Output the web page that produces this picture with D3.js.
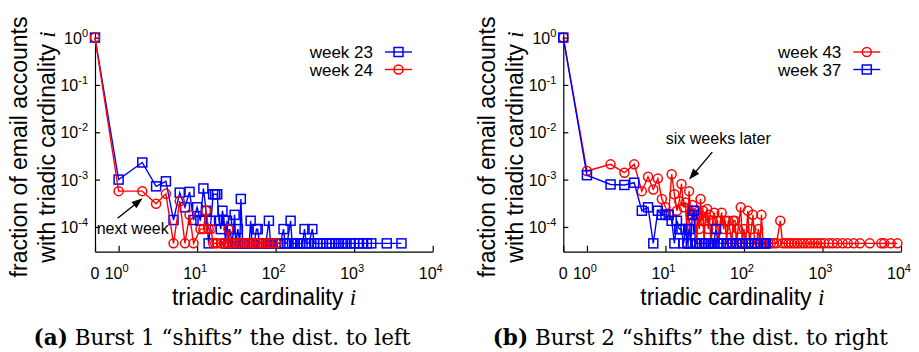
<!DOCTYPE html>
<html>
<head>
<meta charset="utf-8">
<script src="https://cdn.jsdelivr.net/npm/d3@7"></script>
<style>
  body { margin: 0; background: #fff; }
  text { font-family: "Liberation Sans", Arial, sans-serif; fill: #000; }
</style>
</head>
<body>
<svg id="chart" width="919" height="352"></svg>
<script>
// ---- data ----
// (a) week 23 / week 24, (b) week 43 / week 37 ; [triadic cardinality, fraction]
const week23 = [[0,1],[1,1e-3],[2,2.3e-3],[3,7.2e-4],[4,9.2e-4],[5,1.4e-4],[6,5.3e-4],[7,2.6e-4],[8,5.5e-4],
  [9,1.4e-4],[10,2.6e-4],[11,1.35e-4],[12,6.5e-4],[13,2.2e-4],[14,4.5e-5],[15,1.35e-4],[16,4.9e-4],[17,4.9e-4],
  [18,4.9e-4],[19,1.35e-4],[20,9e-5],[21,2.2e-4],[22,1.35e-4],[23,4.5e-5],[24,1.35e-4],[25,4.5e-5],[26,9e-5],
  [28,4.5e-5],[30,1.8e-4],[31,4.5e-5],[33,9e-5],[35,4.5e-5],[36,3.9e-4],[38,4.5e-5],[40,4.5e-5],[43,4.5e-5],
  [46,4.5e-5],[48,1.35e-4],[50,4.5e-5],[53,4.5e-5],[57,9e-5],[59,9e-5],[62,4.5e-5],[66,4.5e-5],[70,4.5e-5],
  [75,4.5e-5],[82,1.35e-4],[86,4.5e-5],[92,4.5e-5],[100,4.5e-5],[108,4.5e-5],[115,4.5e-5],[126,9e-5],[132,4.5e-5],
  [140,4.5e-5],[155,1.35e-4],[162,4.5e-5],[175,4.5e-5],[190,4.5e-5],[205,4.5e-5],[220,4.5e-5],[233,9e-5],
  [245,4.5e-5],[265,4.5e-5],[293,9e-5],[310,4.5e-5],[340,4.5e-5],[370,4.5e-5],[400,4.5e-5],[440,4.5e-5],
  [480,4.5e-5],[520,4.5e-5],[580,4.5e-5],[640,4.5e-5],[720,4.5e-5],[800,4.5e-5],[900,4.5e-5],[1000,4.5e-5],
  [1150,4.5e-5],[1300,4.5e-5],[1450,4.5e-5],[1650,4.5e-5],[2600,4.5e-5],[4000,4.5e-5]];

const week24 = [[0,1],[1,5.7e-4],[2,5.7e-4],[3,3.1e-4],[4,5e-4],[5,4.5e-5],[6,3.5e-4],[7,4.5e-5],[8,1.8e-4],
  [9,4.5e-5],[11,9e-5],[12,9e-5],[13,2.2e-4],[14,9e-5],[15,9e-5],[16,4.5e-5],[17,4.5e-5],[18,4.5e-5],[20,4.5e-5],
  [22,4.5e-5],[24,4.5e-5],[25,9e-5],[26,4.5e-5],[28,4.5e-5],[31,4.5e-5],[34,4.5e-5],[37,4.5e-5],[41,4.5e-5],
  [45,4.5e-5],[50,4.5e-5],[55,4.5e-5],[60,4.5e-5],[67,4.5e-5],[74,4.5e-5],[82,4.5e-5],[92,4.5e-5],[102,4.5e-5]];

const week43 = [[0,1],[1,1.52e-3],[2,2.1e-3],[3,1.4e-3],[4,2.1e-3],[5,5.7e-4],[6,1.15e-3],[7,6.2e-4],[8,1.05e-3],
  [9,3.9e-4],[10,2.6e-4],[11,1.9e-4],[12,1.3e-3],[13,4.9e-4],[14,2.2e-4],[15,3.5e-4],[16,8.1e-4],[17,2.6e-4],
  [18,3.3e-4],[19,4.5e-5],[20,5.7e-4],[21,1.8e-4],[22,2.9e-4],[23,1.35e-4],[24,2.2e-4],[25,4.5e-5],[26,1.8e-4],
  [27,9e-5],[28,3.9e-4],[29,1.35e-4],[30,2.2e-4],[31,4.5e-5],[32,1.35e-4],[34,2.4e-4],[35,9e-5],[36,1.8e-4],
  [38,4.5e-5],[40,1.35e-4],[42,2e-4],[44,9e-5],[46,1.35e-4],[48,4.5e-5],[50,1.35e-4],[52,2e-4],[55,9e-5],
  [58,1.35e-4],[60,4.5e-5],[63,1.35e-4],[66,9e-5],[70,4.5e-5],[73,1.35e-4],[77,1.35e-4],[80,4.5e-5],[84,9e-5],
  [91,2.6e-4],[95,4.5e-5],[100,9e-5],[105,4.5e-5],[112,2.2e-4],[118,4.5e-5],[124,9e-5],[130,1.8e-4],[137,4.5e-5],
  [145,4.5e-5],[152,9e-5],[160,4.5e-5],[167,1.8e-4],[175,4.5e-5],[190,4.5e-5],[205,4.5e-5],[220,4.5e-5],
  [240,4.5e-5],[260,4.5e-5],[290,1.35e-4],[310,4.5e-5],[340,4.5e-5],[370,4.5e-5],[400,4.5e-5],[440,4.5e-5],
  [480,4.5e-5],[530,4.5e-5],[580,4.5e-5],[640,4.5e-5],[700,4.5e-5],[780,4.5e-5],[860,4.5e-5],[950,4.5e-5],
  [1050,4.5e-5],[1200,4.5e-5],[1350,4.5e-5],[1550,4.5e-5],[1800,4.5e-5],[2100,4.5e-5],[2500,4.5e-5],
  [3000,4.5e-5],[4000,4.5e-5],[5600,4.5e-5],[6100,4.5e-5],[7400,4.5e-5],[9000,4.5e-5]];

const week37 = [[0,1],[1,1.24e-3],[2,7.9e-4],[3,7.7e-4],[4,8.6e-4],[5,2.2e-4],[6,2.6e-4],[7,4.5e-5],[8,2.2e-4],
  [9,1.8e-4],[10,1.8e-4],[11,1.8e-4],[12,1.35e-4],[13,4.5e-5],[14,1.35e-4],[15,9e-5],[16,9e-5],[17,4.5e-5],
  [18,9e-5],[19,4.5e-5],[20,9e-5],[21,4.5e-5],[22,1.8e-4],[23,2.2e-4],[24,4.5e-5],[25,4.5e-5],[27,4.5e-5],
  [29,4.5e-5],[31,4.5e-5],[33,4.5e-5],[35,4.5e-5],[38,4.5e-5],[41,4.5e-5],[44,9e-5],[47,4.5e-5],[51,4.5e-5],
  [55,4.5e-5],[60,4.5e-5],[66,4.5e-5],[72,4.5e-5],[80,4.5e-5],[88,4.5e-5],[96,4.5e-5],[105,4.5e-5],[115,4.5e-5],
  [125,4.5e-5],[138,4.5e-5],[150,4.5e-5],[165,4.5e-5],[180,4.5e-5],[190,4.5e-5]];

const xTicks = [0, 1, 10, 100, 1000, 10000];
const xTickExp = [null, '0', '1', '2', '3', '4'];
const yTicks = [1, 1e-1, 1e-2, 1e-3, 1e-4];
const yTickExp = ['0', '-1', '-2', '-3', '-4'];

const BLUE = '#0000ff', RED = '#ff0000';
const svg = d3.select('#chart');

function marker(g, shape, color, cx, cy) {
  if (shape === 'square') {
    g.append('rect').attr('x', cx - 4.5).attr('y', cy - 4.5).attr('width', 9).attr('height', 9)
      .attr('fill', 'none').attr('stroke', color).attr('stroke-width', 1.5);
  } else {
    g.append('circle').attr('cx', cx).attr('cy', cy).attr('r', 4.5)
      .attr('fill', 'none').attr('stroke', color).attr('stroke-width', 1.5);
  }
}

function drawPanel(left, series, note, caption) {
  const g = svg.append('g');
  const x = d3.scaleLog().domain([0.5, 1e4]).range([left, left + 337.7]);
  const xv = v => x(v === 0 ? 0.5 : v);
  const y = d3.scaleLog().domain([3e-5, 1.28]).range([251.7, 32.5]);

  // axes (left + bottom only, ticks inward)
  g.append('g').attr('transform', 'translate(0,251.7)')
    .call(d3.axisBottom(x).tickValues(xTicks.map(v => v === 0 ? 0.5 : v)).tickSizeInner(-6).tickSizeOuter(0).tickFormat(''))
    .call(a => a.selectAll('path,line').attr('stroke', '#000').attr('stroke-width', 1.2));
  g.append('g').attr('transform', `translate(${left},0)`)
    .call(d3.axisLeft(y).tickValues(yTicks).tickSizeInner(-5).tickSizeOuter(0).tickFormat(''))
    .call(a => a.selectAll('path,line').attr('stroke', '#000').attr('stroke-width', 1.2));

  xTicks.forEach((v, i) => {
    const t = g.append('text').attr('x', xv(v) - (i === 0 ? 0 : 2)).attr('y', 279)
      .attr('text-anchor', 'middle').attr('font-size', 16);
    if (xTickExp[i] === null) t.text('0');
    else {
      t.append('tspan').text('10');
      t.append('tspan').attr('dy', -7).attr('font-size', 11).text(xTickExp[i]);
    }
  });
  yTicks.forEach((v, i) => {
    const t = g.append('text').attr('x', left - 7).attr('y', y(v) + 6)
      .attr('text-anchor', 'end').attr('font-size', 16);
    t.append('tspan').text('10');
    t.append('tspan').attr('dy', -7).attr('font-size', 11).text(yTickExp[i]);
  });

  // series: lines then markers, in plot order
  series.forEach(s => {
    const line = d3.line().x(d => xv(d[0])).y(d => y(d[1]));
    g.append('path').datum(s.data).attr('d', line).attr('fill', 'none')
      .attr('stroke', s.color).attr('stroke-width', 1.4);
    const mg = g.append('g');
    s.data.forEach(d => marker(mg, s.shape, s.color, xv(d[0]), y(d[1])));
  });

  // legend
  series.forEach((s, i) => {
    const ly = 52 + i * 17.5;
    g.append('text').attr('x', left + 278).attr('y', ly + 6).attr('text-anchor', 'end')
      .attr('font-size', 17).text(s.name);
    g.append('line').attr('x1', left + 290).attr('x2', left + 317).attr('y1', ly).attr('y2', ly)
      .attr('stroke', s.color).attr('stroke-width', 1.4);
    marker(g, s.shape, s.color, left + 303.5, ly);
  });

  // annotation
  g.append('text').attr('x', x(note.tx)).attr('y', y(note.ty) + 6).attr('font-size', 16).text(note.text);
  const x1 = x(note.ax[0]), y1 = y(note.ax[1]), x2 = x(note.ax[2]), y2 = y(note.ax[3]);
  const ang = Math.atan2(y2 - y1, x2 - x1);
  const hl = 11, hw = 4;
  g.append('line').attr('x1', x1).attr('y1', y1)
    .attr('x2', x2 - Math.cos(ang) * hl * 0.8).attr('y2', y2 - Math.sin(ang) * hl * 0.8)
    .attr('stroke', '#000').attr('stroke-width', 1.4);
  const bx = x2 - Math.cos(ang) * hl, by = y2 - Math.sin(ang) * hl;
  g.append('path').attr('d', `M${x2},${y2}L${bx - Math.sin(ang) * hw},${by + Math.cos(ang) * hw}L${bx + Math.sin(ang) * hw},${by - Math.cos(ang) * hw}Z`)
    .attr('fill', '#000');

  // axis titles
  const xl = g.append('text').attr('x', left + 169).attr('y', 305).attr('text-anchor', 'middle').attr('font-size', 23);
  xl.append('tspan').text('triadic cardinality ');
  xl.append('tspan').attr('font-family', 'Liberation Serif').attr('font-style', 'italic').text('i');

  const yl = g.append('g').attr('transform', `translate(${left - 68},147) rotate(-90)`);
  yl.append('text').attr('x', 0).attr('y', 0).attr('text-anchor', 'middle').attr('font-size', 23)
    .text('fraction of email accounts');
  const yl2 = yl.append('text').attr('x', 0).attr('y', 28).attr('text-anchor', 'middle').attr('font-size', 23);
  yl2.append('tspan').text('with triadic cardinality ');
  yl2.append('tspan').attr('font-family', 'Liberation Serif').attr('font-style', 'italic').text('i');

  // caption
  const c = g.append('text').attr('x', left + 127).attr('y', 345).attr('text-anchor', 'middle')
    .attr('font-size', 21.5).style('font-family', '"DejaVu Serif", serif');
  c.append('tspan').attr('font-weight', 'bold').text(caption[0]);
  c.append('tspan').text(caption[1]);
}

drawPanel(95,
  [{ name: 'week 23', data: week23, color: BLUE, shape: 'square' },
   { name: 'week 24', data: week24, color: RED, shape: 'circle' }],
  { text: 'next week', tx: 0.525, ty: 9.4e-5, ax: [0.97, 1.53e-4, 2.02, 4.04e-4] },
  ['(a)', ' Burst 1 \u201cshifts\u201d the dist. to left']);

drawPanel(563.3,
  [{ name: 'week 43', data: week43, color: RED, shape: 'circle' },
   { name: 'week 37', data: week37, color: BLUE, shape: 'square' }],
  { text: 'six weeks later', tx: 10.1, ty: 7.5e-3, ax: [39.5, 3.8e-3, 20, 1.0e-3] },
  ['(b)', ' Burst 2 \u201cshifts\u201d the dist. to right']);
</script>
</body>
</html>
